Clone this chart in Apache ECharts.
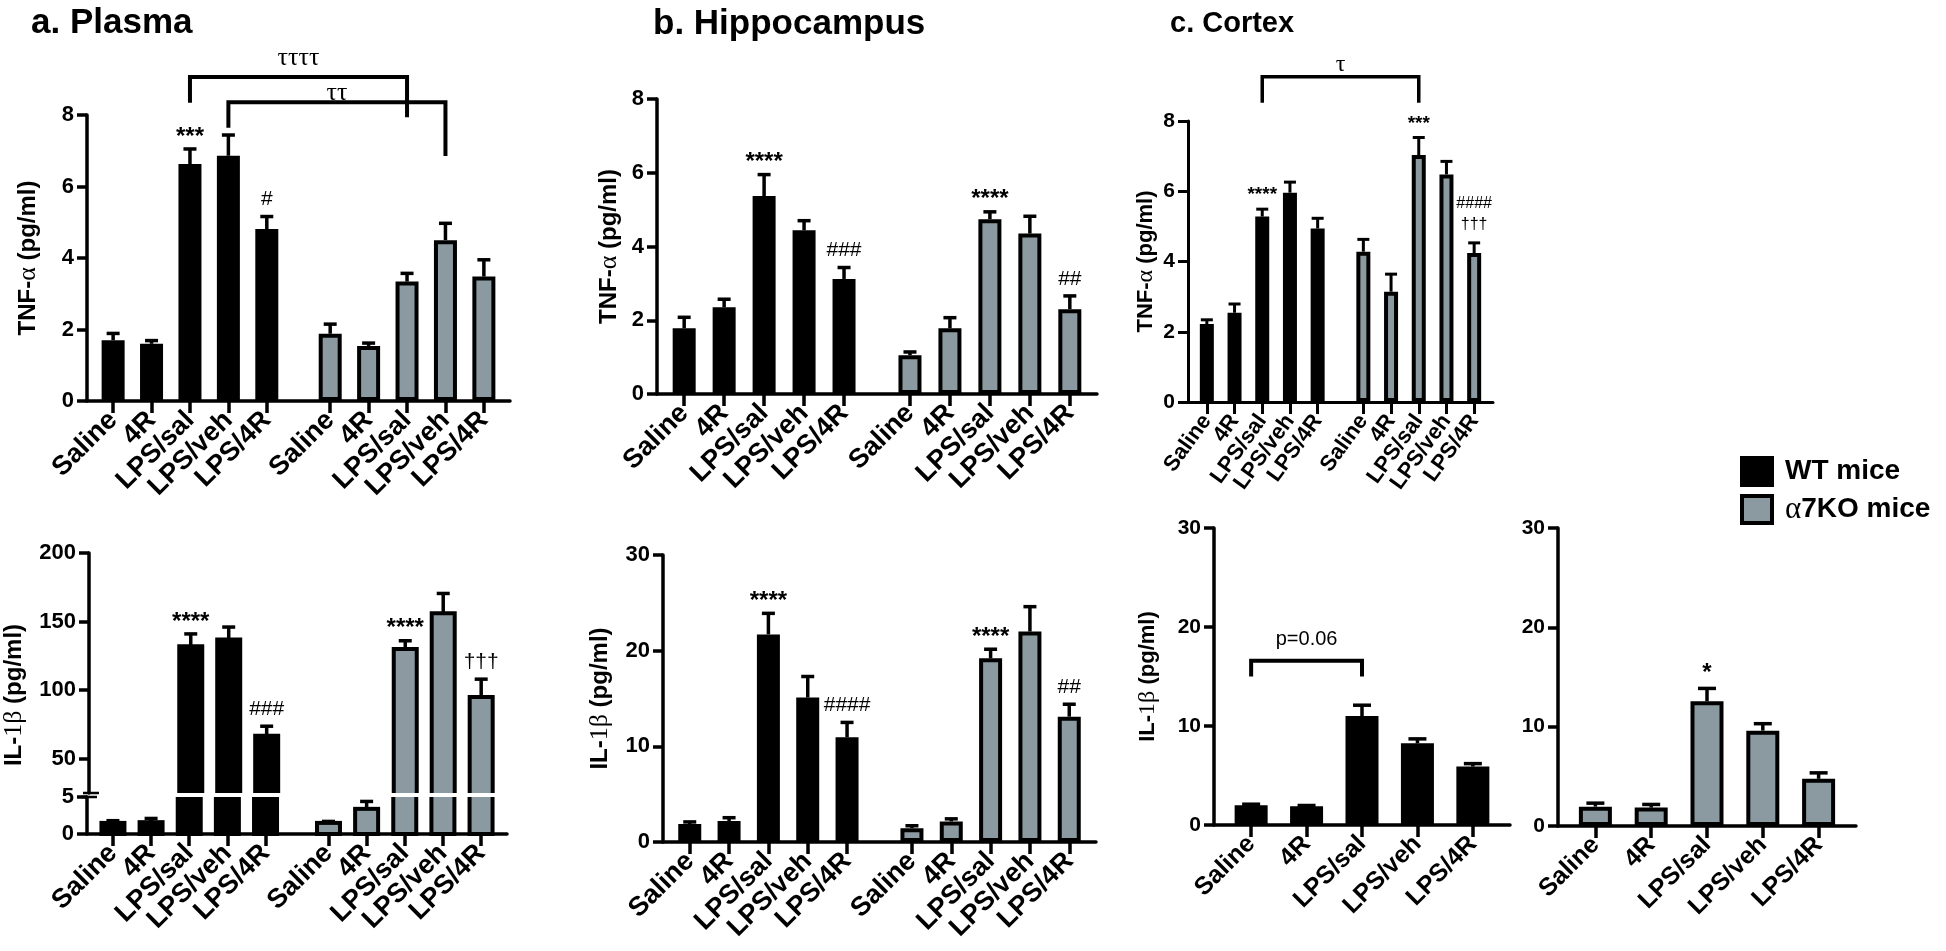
<!DOCTYPE html>
<html><head><meta charset="utf-8">
<script src="https://cdn.jsdelivr.net/npm/echarts@6/dist/echarts.min.js"></script>
<style>html,body{margin:0;padding:0;background:#fff}#c{width:1946px;height:951px}</style>
</head><body><div id="c"></div><script>
// ---------------- DATA ----------------
const categories = ['Saline', '4R', 'LPS/sal', 'LPS/veh', 'LPS/4R'];
const groupNames = ['WT mice', 'α7KO mice'];

// a. Plasma — TNF-α (pg/ml)
const plasmaTnfWT = [1.70, 1.60, 6.63, 6.86, 4.81];
const plasmaTnfWTSem = [0.19, 0.09, 0.42, 0.58, 0.35];
const plasmaTnfKO = [1.88, 1.54, 3.34, 4.50, 3.48];
const plasmaTnfKOSem = [0.27, 0.08, 0.23, 0.47, 0.47];
const plasmaTnfWTMarks = ['', '', '***', '', '#'];
const plasmaTnfKOMarks = ['', '', '', '', ''];
const plasmaTnfBrackets = [
  { from: [0, 2], to: [1, 2], yBar: 9.06, yFrom: 8.34, yTo: 7.94, yText: 9.22, text: 'ττττ' },
  { from: [0, 3], to: [1, 3], yBar: 8.36, yFrom: 7.64, yTo: 6.85, yText: 8.24, text: 'ττ' }
];
// a. Plasma — IL-1β (pg/ml)
const plasmaIl1WT = [1.5, 1.6, 132, 137, 66.7];
const plasmaIl1WTSem = [0.3, 0.5, 9, 9, 7];
const plasmaIl1KO = [1.5, 3.4, 130, 156, 95];
const plasmaIl1KOSem = [0.2, 1.0, 6, 14.5, 13];
const plasmaIl1WTMarks = ['', '', '****', '', '###'];
const plasmaIl1KOMarks = ['', '', '****', '', '†††'];

// b. Hippocampus — TNF-α
const hippoTnfWT = [1.78, 2.35, 5.37, 4.44, 3.12];
const hippoTnfWTSem = [0.30, 0.22, 0.58, 0.26, 0.31];
const hippoTnfKO = [1.05, 1.78, 4.74, 4.35, 2.30];
const hippoTnfKOSem = [0.09, 0.29, 0.20, 0.47, 0.36];
const hippoTnfWTMarks = ['', '', '****', '', '###'];
const hippoTnfKOMarks = ['', '', '****', '', '##'];
// b. Hippocampus — IL-1β
const hippoIl1WT = [1.88, 2.19, 21.7, 15.1, 10.94];
const hippoIl1WTSem = [0.22, 0.35, 2.2, 2.2, 1.56];
const hippoIl1KO = [1.45, 2.15, 19.2, 22.0, 13.1];
const hippoIl1KOSem = [0.25, 0.27, 0.95, 2.6, 1.3];
const hippoIl1WTMarks = ['', '', '****', '', '####'];
const hippoIl1KOMarks = ['', '', '****', '', '##'];

// c. Cortex — TNF-α
const cortexTnfWT = [2.22, 2.54, 5.28, 5.96, 4.94];
const cortexTnfWTSem = [0.12, 0.25, 0.21, 0.30, 0.29];
const cortexTnfKO = [4.28, 3.14, 7.03, 6.48, 4.24];
const cortexTnfKOSem = [0.35, 0.50, 0.50, 0.37, 0.29];
const cortexTnfWTMarks = ['', '', '****', '', ''];
const cortexTnfKOMarks = ['', '', '***', '', '####\n†††'];
const cortexTnfBrackets = [
  { from: [0, 2], to: [1, 2], yBar: 9.26, yFrom: 8.52, yTo: 8.52, yText: 9.27, text: 'τ' }
];
// c. Cortex — IL-1β (separate WT / KO charts)
const cortexIl1WT = [2.0, 1.9, 11.0, 8.25, 5.9];
const cortexIl1WTSem = [0.1, 0.07, 1.1, 0.45, 0.3];
const cortexIl1KO = [1.95, 1.85, 12.55, 9.6, 4.75];
const cortexIl1KOSem = [0.35, 0.32, 1.3, 0.7, 0.6];
const cortexIl1WTBrackets = [
  { from: [0, 0], to: [0, 2], yBar: 16.6, yFrom: 15.0, yTo: 15.0, yText: 17.7, text: 'p=0.06' }
];
const cortexIl1KOMarks = ['', '', '*', '', ''];

// axis ticks
const tnfTicks = [0, 2, 4, 6, 8];
const il1Ticks = [0, 10, 20, 30];
const plasmaIl1UpperTicks = [50, 100, 150, 200];
const plasmaIl1LowerTicks = [0, 5];

// ---------------- STYLE / LAYOUT ----------------
const BLACK = '#000';
const GRAY = '#8a9aa0';
const SANS = "'Liberation Sans', Arial, Helvetica, sans-serif";
const SERIF = "'Liberation Serif', 'Times New Roman', serif";
const KO_SHIFT = 5.65;

function pos(g, i) { return g === 0 ? i : i + KO_SHIFT; }
const posWT = categories.map((c, i) => pos(0, i));
const posKO = categories.map((c, i) => pos(1, i));
const posAll = posWT.concat(posKO);
function labelFor(v) {
  const k = Math.round(v * 100);
  const i = posAll.findIndex(p => Math.round(p * 100) === k);
  return i < 0 ? '' : categories[i % 5];
}

const option = {
  animation: false, backgroundColor: '#fff',
  title: [
    { text: 'a. Plasma', left: 26, top: 1, textStyle: { fontSize: 35, fontWeight: 'bold', fontFamily: SANS, color: BLACK } },
    { text: 'b. Hippocampus', left: 648, top: 2, textStyle: { fontSize: 35, fontWeight: 'bold', fontFamily: SANS, color: BLACK } },
    { text: 'c. Cortex', left: 1165, top: 4, textStyle: { fontSize: 29, fontWeight: 'bold', fontFamily: SANS, color: BLACK } }
  ],
  legend: {
    data: groupNames, orient: 'vertical', left: 1735, top: 451, itemWidth: 30, itemHeight: 27, itemGap: 7,
    icon: 'rect', selectedMode: false,
    itemStyle: { borderColor: BLACK, borderWidth: 4 },
    formatter: n => n.replace('α', '{g|α}'),
    textStyle: { fontSize: 28, fontWeight: 'bold', fontFamily: SANS, color: BLACK, padding: [0, 0, 0, 8],
      rich: { g: { fontSize: 31, fontFamily: SERIF, fontWeight: 'normal', color: BLACK } } }
  },
  grid: [], xAxis: [], yAxis: [], series: []
};

function addCoord(c) {
  const idx = option.grid.length;
  option.grid.push({ left: c.left, top: c.top, width: c.width, height: c.height });
  const ticks = c.single ? posWT : posAll;
  option.xAxis.push({
    type: 'value', gridIndex: idx, min: c.xMin, max: c.xMax, show: c.showX !== false,
    axisLine: { show: true, onZero: false, lineStyle: { color: BLACK, width: c.lw } },
    axisTick: { show: true, customValues: ticks, length: 12, lineStyle: { color: BLACK, width: c.lw } },
    axisLabel: { show: true, customValues: ticks, rotate: c.xRot, margin: 15, fontSize: c.xFont, fontWeight: 'bold',
      showMinLabel: true, showMaxLabel: true, hideOverlap: false,
      fontFamily: SANS, color: BLACK, formatter: labelFor },
    splitLine: { show: false }
  });
  const y = {
    type: 'value', gridIndex: idx, min: c.yMin, max: c.yMax,
    axisLine: { show: true, onZero: false, lineStyle: { color: BLACK, width: c.lw } },
    axisTick: { show: true, length: 10, customValues: c.yTicks, lineStyle: { color: BLACK, width: c.lw } },
    axisLabel: { show: true, customValues: c.yTicks, margin: 13, fontSize: c.yFont, fontWeight: 'bold', fontFamily: SANS, color: BLACK,
      showMinLabel: true, showMaxLabel: true },
    splitLine: { show: false }
  };
  if (c.yName) {
    y.name = c.yName; y.nameLocation = 'middle'; y.nameGap = c.nameGap;
    y.nameTextStyle = { fontSize: c.nameFont, fontWeight: 'bold', fontFamily: SANS, color: BLACK, padding: c.namePad || 0,
      rich: { g: { fontSize: c.nameFont + 2, fontFamily: SERIF, fontWeight: 'normal', color: BLACK } } };
  }
  option.yAxis.push(y);
  return idx;
}

function addBars(idx, positions, values, group, c) {
  option.series.push({
    type: 'bar', name: groupNames[group], xAxisIndex: idx, yAxisIndex: idx,
    data: positions.map((p, i) => [p, values[i]]),
    barWidth: c.barW, barGap: '-100%', silent: true, z: 2,
    itemStyle: { color: group ? GRAY : BLACK, borderColor: BLACK, borderWidth: 4 }
  });
}

// bars for the broken (two-segment) axis: outline only where the bar really ends
function addBrokenBars(idx, positions, values, group, c) {
  option.series.push({
    type: 'custom', xAxisIndex: idx, yAxisIndex: idx, silent: true, z: 2, clip: false,
    data: positions.map((p, i) => [p, values[i]]),
    encode: { x: 0, y: 1 },
    renderItem(params, api) {
      const cs = params.coordSys;
      const x = api.value(0), v = api.value(1);
      const pt = api.coord([x, v]), pb = api.coord([x, 0]);
      const topIn = pt[1] >= cs.y, botIn = pb[1] <= cs.y + cs.height + 0.5;
      const yTop = topIn ? pt[1] - 2 : cs.y;
      const yBot = botIn ? pb[1] + 2 : cs.y + cs.height;
      if (yBot <= yTop || pt[1] > cs.y + cs.height) return null;
      const w = c.barW + 4;
      const ch = [{ type: 'rect', shape: { x: pt[0] - w / 2, y: yTop, width: w, height: yBot - yTop }, style: { fill: BLACK } }];
      if (group === 1) {
        const iTop = topIn ? yTop + 4 : yTop, iBot = botIn ? yBot - 4 : yBot;
        if (iBot > iTop) ch.push({ type: 'rect', shape: { x: pt[0] - w / 2 + 4, y: iTop, width: w - 8, height: iBot - iTop }, style: { fill: GRAY } });
      }
      return { type: 'group', children: ch };
    }
  });
}

function addErr(idx, positions, means, sems, marks, c, clip) {
  option.series.push({
    type: 'custom', xAxisIndex: idx, yAxisIndex: idx, silent: true, z: 4, clip: !!clip,
    data: positions.map((p, i) => [p, means[i], sems[i]]),
    encode: { x: 0, y: 1 },
    renderItem(params, api) {
      const x = api.value(0), m = api.value(1), s = api.value(2);
      const p0 = api.coord([x, m]), p1 = api.coord([x, m + s]);
      const ls = { stroke: BLACK, lineWidth: c.errW, fill: null };
      const ch = [
        { type: 'line', shape: { x1: p0[0], y1: p0[1], x2: p1[0], y2: p1[1] }, style: ls },
        { type: 'line', shape: { x1: p1[0] - c.cap, y1: p1[1], x2: p1[0] + c.cap, y2: p1[1] }, style: ls }
      ];
      const mk = marks ? marks[params.dataIndex] : '';
      if (mk) {
        const lines = mk.split('\n');
        for (let j = 0; j < lines.length; j++) {
          const txt = lines[lines.length - 1 - j];
          const star = txt[0] === '*';
          const yc = p1[1] - c.markGap - j * c.markLine + (star ? c.starDrop : 0);
          ch.push({ type: 'text', style: { text: txt, x: p1[0], y: yc, align: 'center', verticalAlign: 'middle', fill: BLACK,
            fontSize: star ? c.starFont : c.markFont, fontWeight: star ? 'bold' : 'normal', fontFamily: SANS } });
        }
      }
      return { type: 'group', children: ch };
    }
  });
}

function addBrackets(idx, brackets, c) {
  option.series.push({
    type: 'custom', xAxisIndex: idx, yAxisIndex: idx, silent: true, z: 5, clip: false,
    data: brackets.map(b => [pos(b.from[0], b.from[1]), pos(b.to[0], b.to[1]), b.yBar, b.yFrom, b.yTo, b.yText]),
    encode: { x: 0, y: 2 },
    renderItem(params, api) {
      const b = brackets[params.dataIndex];
      const x0 = api.value(0), x1 = api.value(1);
      const a = api.coord([x0, api.value(3)]), p = api.coord([x0, api.value(2)]);
      const q = api.coord([x1, api.value(2)]), e = api.coord([x1, api.value(4)]);
      const t = api.coord([(x0 + x1) / 2, api.value(5)]);
      return { type: 'group', children: [
        { type: 'polyline', shape: { points: [a, p, q, e] }, style: { stroke: BLACK, lineWidth: c.brW, fill: null } },
        { type: 'text', style: { text: b.text, x: t[0], y: t[1], align: 'center', verticalAlign: 'bottom', fill: BLACK,
          fontSize: c.brFont, fontFamily: c.brFamily, fontWeight: 'normal' } }
      ] };
    }
  });
}

// ----- styles per panel -----
const stAB = { lw: 3.5, xRot: 45, xFont: 27, yFont: 22, barW: 23, errW: 3.5, cap: 6.5,
  markGap: 17, markLine: 22, starDrop: 5, starFont: 24, markFont: 21, nameFont: 24 };
const stCT = { lw: 3, xRot: 54, xFont: 22, yFont: 21, barW: 14, errW: 3, cap: 6,
  markGap: 18, markLine: 21, starDrop: 4, starFont: 19, markFont: 16, nameFont: 22 };
const stCB = { lw: 3.5, xRot: 45, xFont: 25, yFont: 21, barW: 33, errW: 3.5, cap: 9,
  markGap: 20, markLine: 22, starDrop: 5, starFont: 24, markFont: 21, nameFont: 22 };

// a top
let g = addCoord(Object.assign({}, stAB, { left: 87, top: 115, width: 423, height: 286, xMin: -0.68, xMax: 10.33,
  yMin: 0, yMax: 8, yTicks: tnfTicks, yName: 'TNF-{g|α} (pg/ml)', nameGap: 46 }));
addBars(g, posWT, plasmaTnfWT, 0, stAB); addBars(g, posKO, plasmaTnfKO, 1, stAB);
addErr(g, posWT, plasmaTnfWT, plasmaTnfWTSem, plasmaTnfWTMarks, stAB);
addErr(g, posKO, plasmaTnfKO, plasmaTnfKOSem, plasmaTnfKOMarks, stAB);
addBrackets(g, plasmaTnfBrackets, { brW: 4, brFont: 26, brFamily: SERIF });

// a bottom (broken axis)
const aUp = addCoord(Object.assign({}, stAB, { left: 87, top: 553, width: 420, height: 240, xMin: -0.68, xMax: 10.33, showX: false,
  yMin: 25, yMax: 200, yTicks: plasmaIl1UpperTicks, yName: 'IL-{g|1β} (pg/ml)', nameGap: 62, namePad: [0, 44, 0, 0] }));
addBrokenBars(aUp, posWT, plasmaIl1WT, 0, stAB); addBrokenBars(aUp, posKO, plasmaIl1KO, 1, stAB);
addErr(aUp, posWT, plasmaIl1WT, plasmaIl1WTSem, plasmaIl1WTMarks, stAB, true);
addErr(aUp, posKO, plasmaIl1KO, plasmaIl1KOSem, plasmaIl1KOMarks, stAB, true);
const aLo = addCoord(Object.assign({}, stAB, { left: 87, top: 797, width: 420, height: 37, xMin: -0.68, xMax: 10.33,
  yMin: 0, yMax: 5, yTicks: plasmaIl1LowerTicks }));
addBrokenBars(aLo, posWT, plasmaIl1WT, 0, stAB); addBrokenBars(aLo, posKO, plasmaIl1KO, 1, stAB);
addErr(aLo, posWT, plasmaIl1WT, plasmaIl1WTSem, null, stAB, true);
addErr(aLo, posKO, plasmaIl1KO, plasmaIl1KOSem, null, stAB, true);

// b top
g = addCoord(Object.assign({}, stAB, { left: 657, top: 99, width: 440, height: 295, xMin: -0.68, xMax: 10.33,
  yMin: 0, yMax: 8, yTicks: tnfTicks, yName: 'TNF-{g|α} (pg/ml)', nameGap: 35 }));
addBars(g, posWT, hippoTnfWT, 0, stAB); addBars(g, posKO, hippoTnfKO, 1, stAB);
addErr(g, posWT, hippoTnfWT, hippoTnfWTSem, hippoTnfWTMarks, stAB);
addErr(g, posKO, hippoTnfKO, hippoTnfKOSem, hippoTnfKOMarks, stAB);

// b bottom
g = addCoord(Object.assign({}, stAB, { left: 663, top: 555, width: 433, height: 287, xMin: -0.68, xMax: 10.33,
  yMin: 0, yMax: 30, yTicks: il1Ticks, yName: 'IL-{g|1β} (pg/ml)', nameGap: 50 }));
addBars(g, posWT, hippoIl1WT, 0, stAB); addBars(g, posKO, hippoIl1KO, 1, stAB);
addErr(g, posWT, hippoIl1WT, hippoIl1WTSem, hippoIl1WTMarks, stAB);
addErr(g, posKO, hippoIl1KO, hippoIl1KOSem, hippoIl1KOMarks, stAB);

// c top
g = addCoord(Object.assign({}, stCT, { left: 1188, top: 121, width: 305, height: 281, xMin: -0.68, xMax: 10.33,
  yMin: 0, yMax: 8, yTicks: tnfTicks, yName: 'TNF-{g|α} (pg/ml)', nameGap: 30 }));
addBars(g, posWT, cortexTnfWT, 0, stCT); addBars(g, posKO, cortexTnfKO, 1, stCT);
addErr(g, posWT, cortexTnfWT, cortexTnfWTSem, cortexTnfWTMarks, stCT);
addErr(g, posKO, cortexTnfKO, cortexTnfKOSem, cortexTnfKOMarks, stCT);
addBrackets(g, cortexTnfBrackets, { brW: 3.5, brFont: 24, brFamily: SERIF });

// c bottom left (WT)
g = addCoord(Object.assign({}, stCB, { single: true, left: 1214, top: 528, width: 296, height: 297, xMin: -0.67, xMax: 4.67,
  yMin: 0, yMax: 30, yTicks: il1Ticks, yName: 'IL-{g|1β} (pg/ml)', nameGap: 54 }));
addBars(g, posWT, cortexIl1WT, 0, stCB);
addErr(g, posWT, cortexIl1WT, cortexIl1WTSem, null, stCB);
addBrackets(g, cortexIl1WTBrackets, { brW: 4, brFont: 20, brFamily: SANS });

// c bottom right (KO)
g = addCoord(Object.assign({}, stCB, { single: true, left: 1558, top: 528, width: 298, height: 298, xMin: -0.67, xMax: 4.67,
  yMin: 0, yMax: 30, yTicks: il1Ticks }));
addBars(g, posWT, cortexIl1KO, 1, stCB);
addErr(g, posWT, cortexIl1KO, cortexIl1KOSem, cortexIl1KOMarks, stCB);

const chart = echarts.init(document.getElementById('c'), null, { renderer: 'canvas' });
chart.setOption(option);

// axis-break marks for the plasma IL-1β axis
const pUp = chart.convertToPixel({ gridIndex: aUp }, [-0.68, 25]);
const pLo = chart.convertToPixel({ gridIndex: aLo }, [-0.68, 5]);
chart.setOption({ graphic: [pUp, pLo].map(p => ({
  type: 'line', silent: true, z: 10,
  shape: { x1: p[0] - 6, y1: p[1], x2: p[0] + 10, y2: p[1] },
  style: { stroke: BLACK, lineWidth: 2.5 }
})) });
</script></body></html>
